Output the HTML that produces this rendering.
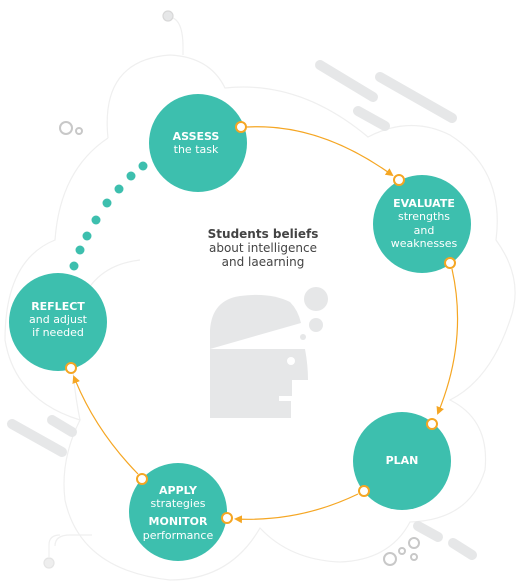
<!DOCTYPE html>
<html><head><style>
html,body{margin:0;padding:0;background:#fff;}
svg{display:block;}
text{font-family:"DejaVu Sans","Liberation Sans",sans-serif;}
</style></head><body>
<svg width="523" height="584" viewBox="0 0 523 584" xmlns="http://www.w3.org/2000/svg">
<defs>
<marker id="ar" markerWidth="8" markerHeight="8" refX="6" refY="4" orient="auto" markerUnits="userSpaceOnUse">
<path d="M0,0 L8,4 L0,8 Z" fill="#f5a623"/>
</marker>
</defs>
<!-- background cloud outlines -->
<g fill="none" stroke="#efefef" stroke-width="1.2">
<path d="M183,55 L183,47 Q183,17 168,17"/>
<circle cx="168" cy="16" r="5" fill="#e6e7e8" stroke="#d8d8d8"/>
<path d="M108,138 Q100,60 170,55 Q210,57 225,88 Q300,80 368,137 Q410,115 450,135 Q505,170 496,240 Q525,280 510,320 Q490,380 450,400 Q490,420 485,470 Q470,520 410,522 Q390,560 340,562 Q290,560 260,528 Q230,580 170,580 Q80,570 65,500 Q60,460 80,420 Q15,400 5,340 Q5,260 55,240 Q60,170 108,138"/>
<path d="M80,420 Q50,270 140,260"/>
<path d="M55,546 Q55,535 70,535 L92,535"/>
<circle cx="49" cy="563" r="5" fill="#eee" stroke="#e4e4e4"/>
<path d="M49,558 L49,545 Q49,535 60,535"/>
</g>
<!-- grey bars -->
<g stroke="#e6e7e8" stroke-width="10" stroke-linecap="round">
<line x1="320" y1="65" x2="373" y2="97"/>
<line x1="380" y1="77" x2="452" y2="118"/>
<line x1="358" y1="111" x2="385" y2="126"/>
<line x1="12" y1="424" x2="62" y2="452"/>
<line x1="52" y1="420" x2="72" y2="432"/>
<line x1="418" y1="526" x2="438" y2="537"/>
<line x1="453" y1="543" x2="472" y2="555"/>
</g>
<g fill="none" stroke="#c8c8c8" stroke-width="2">
<circle cx="66" cy="128" r="6"/>
<circle cx="79" cy="131" r="3"/>
<circle cx="390" cy="559" r="6"/>
<circle cx="402" cy="551" r="3"/>
<circle cx="414" cy="543" r="5"/>
<circle cx="414" cy="557" r="3"/>
</g>
<!-- head -->
<g fill="#e6e7e8">
<path d="M210,349 L210,330 Q212,300 240,296 Q270,292 290,302 Q298,310 301,323 Z"/>
<path d="M210,349 L305,349 Q308,365 308,380 L292,380 L292,396 L279,396 L279,401 L291,401 L291,418 L210,418 Z"/>
<circle cx="316" cy="299" r="12"/>
<circle cx="316" cy="325" r="7"/>
<circle cx="303" cy="337" r="3"/>
</g>
<circle cx="291" cy="361" r="4" fill="#fff"/>
<!-- teal dots -->
<g fill="#3dbfae">
<circle cx="143" cy="166" r="4.5"/><circle cx="131" cy="176" r="4.5"/><circle cx="119" cy="189" r="4.5"/><circle cx="107" cy="203" r="4.5"/><circle cx="96" cy="220" r="4.5"/><circle cx="87" cy="236" r="4.5"/><circle cx="80" cy="250" r="4.5"/><circle cx="74" cy="266" r="4.5"/>
</g>
<!-- nodes -->
<g fill="#3dbfae">
<circle cx="198" cy="143" r="49"/>
<circle cx="422" cy="224" r="49"/>
<circle cx="58" cy="322" r="49"/>
<circle cx="402" cy="461" r="49"/>
<circle cx="178" cy="512" r="49"/>
</g>
<!-- arrows -->
<g fill="none" stroke="#f5a623" stroke-width="1.2">
<path d="M247,127 Q320,123 392,175" marker-end="url(#ar)"/>
<path d="M452,269 Q468,340 438,413" marker-end="url(#ar)"/>
<path d="M358,494 Q300,522 236,519" marker-end="url(#ar)"/>
<path d="M138,474 Q95,430 74,377" marker-end="url(#ar)"/>
</g>
<g fill="#fff" stroke="#f5a623" stroke-width="2">
<circle cx="241" cy="127" r="5"/><circle cx="399" cy="180" r="5"/><circle cx="450" cy="263" r="5"/><circle cx="432" cy="424" r="5"/><circle cx="364" cy="491" r="5"/><circle cx="227" cy="518" r="5"/><circle cx="142" cy="479" r="5"/><circle cx="71" cy="368" r="5"/>
</g>
<!-- labels -->
<g fill="#fff" font-size="11" text-anchor="middle">
<text x="196" y="140" font-weight="bold">ASSESS</text>
<text x="196" y="153">the task</text>
<text x="424" y="207" font-weight="bold">EVALUATE</text>
<text x="424" y="220">strengths</text>
<text x="424" y="234">and</text>
<text x="424" y="247">weaknesses</text>
<text x="58" y="310" font-weight="bold">REFLECT</text>
<text x="58" y="323">and adjust</text>
<text x="58" y="336">if needed</text>
<text x="402" y="464" font-weight="bold">PLAN</text>
<text x="178" y="494" font-weight="bold">APPLY</text>
<text x="178" y="507">strategies</text>
<text x="178" y="525" font-weight="bold">MONITOR</text>
<text x="178" y="539">performance</text>
</g>
<g fill="#444" font-size="12" text-anchor="middle">
<text x="263" y="238" font-weight="bold">Students beliefs</text>
<text x="263" y="252">about intelligence</text>
<text x="263" y="266">and laearning</text>
</g>
</svg>
</body></html>
